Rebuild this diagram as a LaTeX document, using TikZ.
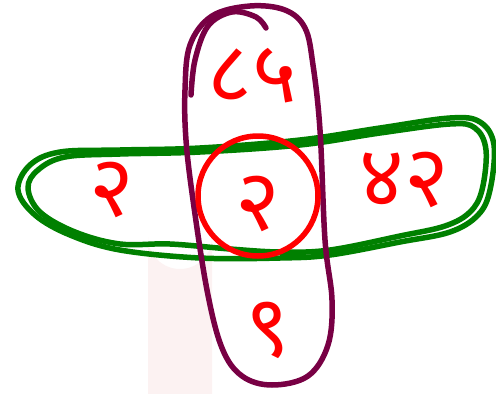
\documentclass[tikz,border=0pt]{standalone}
\usepackage{fontspec}
\newfontfamily\devfont[Script=Devanagari]{Noto Sans}
\definecolor{loopred}{RGB}{255,0,0}
\definecolor{loopgreen}{RGB}{0,128,0}
\definecolor{loopmaroon}{RGB}{120,0,68}
\definecolor{faintpink}{RGB}{252,242,242}
\definecolor{faintcream}{RGB}{248,248,238}
\begin{document}
\begin{tikzpicture}[x=1pt,y=-1pt,
  pen/.style={line width=5.5pt,line cap=round,line join=round},
  digit/.style={text=loopred,font=\devfont\fontsize{86}{86}\selectfont,inner sep=0pt}]
\useasboundingbox (0,0) rectangle (496,394);
% faint background shapes
\fill[faintpink] (148,394) -- (148,237) arc[start angle=180,end angle=0,radius=32] -- (212,394) -- cycle;
\fill[faintcream] (65,394) arc[start angle=180,end angle=90,radius=65] -- (130,394) -- cycle;
% green horizontal loop (double stroke)
\draw[pen,loopgreen] plot[smooth cycle,tension=0.6] coordinates {
 (18,190) (30,165) (60,152) (120,150) (200,148) (300,140) (380,128) (450,118)
 (480,122) (494,145) (490,190) (478,215) (450,232) (400,242) (330,255)
 (280,258) (200,258) (120,250) (70,235) (35,215)};
\draw[pen,loopgreen] plot[smooth cycle,tension=0.6] coordinates {
 (28,188) (38,170) (65,157) (120,154) (200,152) (300,145) (380,133) (450,124)
 (475,128) (486,150) (482,190) (470,212) (445,226) (400,236) (330,250)
 (280,252) (230,249) (170,244) (120,244) (75,232) (40,212)};
% maroon vertical loop
\draw[pen,loopmaroon] plot[smooth cycle,tension=0.6] coordinates {
 (250,6) (285,10) (305,28) (313,65) (320,130) (325,240) (332,300) (328,345)
 (308,376) (272,385) (242,376) (222,348) (207,290) (193,200) (186,140)
 (185,90) (190,45) (212,16)};
\draw[pen,loopmaroon] plot[smooth,tension=0.6] coordinates {
 (266,28) (256,17) (232,12) (208,26) (195,60) (191,95)};
% red circle
\draw[pen,loopred] (258,196) circle[radius=60];
% numbers
\node[digit] (top) at (252,76) {८५};
\node[digit] (left) at (112,190) {२};
\node[digit] (center) at (258,204) {२};
\node[digit] (right) at (404,180) {४२};
\node[digit] (bottom) at (268,330) {९};
\end{tikzpicture}
\end{document}
